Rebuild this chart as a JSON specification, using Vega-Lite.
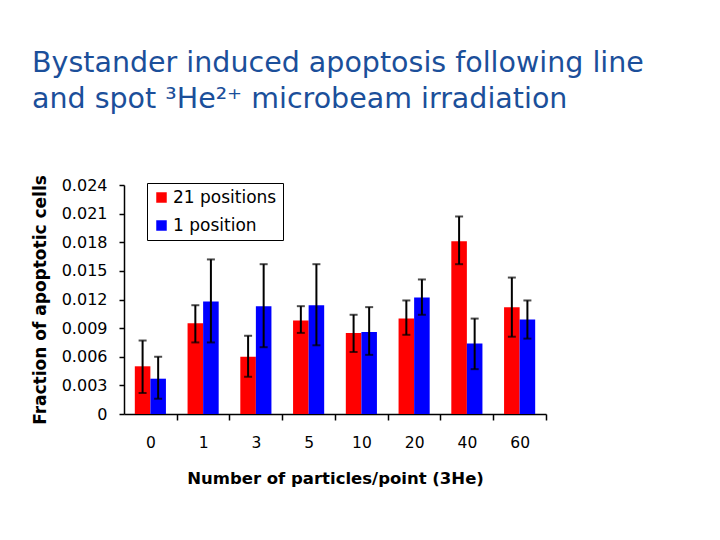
{
  "$schema": "https://vega.github.io/schema/vega-lite/v6.json",
  "autosize": {"type": "none"},
  "width": 422,
  "height": 229,
  "padding": {"left": 124, "top": 185, "right": 174, "bottom": 126},
  "background": "white",
  "config": {
    "font": "DejaVu Sans",
    "view": {"stroke": null},
    "axis": {"grid": false, "domainColor": "black", "tickColor": "black", "labelColor": "black", "titleColor": "black", "labelFont": "DejaVu Sans", "titleFont": "DejaVu Sans"},
    "axisY": {"labelOverlap": false, "labelFontSize": 16, "labelPadding": 12, "tickSize": 5, "tickWidth": 1.5, "domainWidth": 1.5, "titleFontSize": 17, "titleFontWeight": "bold", "titlePadding": 12}
  },
  "title": {
    "text": ["Bystander induced apoptosis following line", "and spot ³He²⁺ microbeam irradiation"],
    "anchor": "start",
    "frame": "group",
    "dx": -92,
    "offset": 61,
    "fontSize": 28.5,
    "fontWeight": "normal",
    "font": "DejaVu Sans",
    "color": "#1B4F9A",
    "lineHeight": 36
  },
  "data": {
    "values": [
      {"particles": "0", "series": "21 positions", "value": 0.0050, "lower": 0.0022, "upper": 0.0077},
      {"particles": "0", "series": "1 position", "value": 0.0037, "lower": 0.0016, "upper": 0.0060},
      {"particles": "1", "series": "21 positions", "value": 0.0095, "lower": 0.0075, "upper": 0.0114},
      {"particles": "1", "series": "1 position", "value": 0.0118, "lower": 0.0075, "upper": 0.0162},
      {"particles": "3", "series": "21 positions", "value": 0.0060, "lower": 0.0039, "upper": 0.0082},
      {"particles": "3", "series": "1 position", "value": 0.0113, "lower": 0.0070, "upper": 0.0157},
      {"particles": "5", "series": "21 positions", "value": 0.0098, "lower": 0.0085, "upper": 0.0113},
      {"particles": "5", "series": "1 position", "value": 0.0114, "lower": 0.0072, "upper": 0.0157},
      {"particles": "10", "series": "21 positions", "value": 0.0085, "lower": 0.0065, "upper": 0.0104},
      {"particles": "10", "series": "1 position", "value": 0.0086, "lower": 0.0062, "upper": 0.0112},
      {"particles": "20", "series": "21 positions", "value": 0.0100, "lower": 0.0083, "upper": 0.0119},
      {"particles": "20", "series": "1 position", "value": 0.0122, "lower": 0.0104, "upper": 0.0141},
      {"particles": "40", "series": "21 positions", "value": 0.0181, "lower": 0.0157, "upper": 0.0207},
      {"particles": "40", "series": "1 position", "value": 0.0074, "lower": 0.0047, "upper": 0.0100},
      {"particles": "60", "series": "21 positions", "value": 0.0112, "lower": 0.0081, "upper": 0.0143},
      {"particles": "60", "series": "1 position", "value": 0.0099, "lower": 0.0079, "upper": 0.0119}
    ]
  },
  "encoding": {
    "x": {
      "field": "particles",
      "type": "nominal",
      "sort": ["0", "1", "3", "5", "10", "20", "40", "60"],
      "scale": {"paddingInner": 0.41, "paddingOuter": 0.205},
      "axis": {
        "title": "Number of particles/point (3He)",
        "labelAngle": 0,
        "labelFontSize": 15.5,
        "labelPadding": 15,
        "titleFontSize": 16.5,
        "titleFontWeight": "bold",
        "titlePadding": 20,
        "domainWidth": 1.5,
        "tickSize": 6,
        "tickWidth": 1.5,
        "bandPosition": 1,
        "tickOffset": 10.8,
        "labelOffset": -10.8
      }
    },
    "xOffset": {"field": "series", "type": "nominal", "sort": ["21 positions", "1 position"], "scale": {"paddingInner": 0, "paddingOuter": 0}}
  },
  "layer": [
    {
      "mark": {"type": "bar"},
      "encoding": {
        "y": {
          "field": "value",
          "type": "quantitative",
          "scale": {"domain": [0, 0.024], "nice": false},
          "axis": {
            "title": "Fraction of apoptotic cells",
            "values": [0, 0.003, 0.006, 0.009, 0.012, 0.015, 0.018, 0.021, 0.024],
            "labelExpr": "datum.value == 0 ? '0' : format(datum.value, '.3f')"
          }
        },
        "color": {
          "field": "series",
          "type": "nominal",
          "scale": {"domain": ["21 positions", "1 position"], "range": ["#FF0000", "#0000FF"]},
          "legend": {
            "title": null,
            "orient": "none",
            "legendX": 23,
            "legendY": -2,
            "symbolType": "square",
            "symbolSize": 110,
            "symbolStrokeWidth": 0,
            "labelFontSize": 17,
            "labelFont": "DejaVu Sans",
            "labelColor": "black",
            "labelOffset": 3,
            "rowPadding": 10,
            "padding": 6,
            "strokeColor": "black",
            "fillColor": "white"
          }
        }
      }
    },
    {
      "mark": {"type": "rule", "color": "black", "strokeWidth": 2},
      "encoding": {
        "y": {
          "field": "lower",
          "type": "quantitative",
          "axis": {
            "title": "Fraction of apoptotic cells",
            "values": [0, 0.003, 0.006, 0.009, 0.012, 0.015, 0.018, 0.021, 0.024],
            "labelExpr": "datum.value == 0 ? '0' : format(datum.value, '.3f')"
          }
        },
        "y2": {"field": "upper"}
      }
    },
    {
      "mark": {"type": "tick", "color": "black", "thickness": 2, "size": 8, "orient": "horizontal"},
      "encoding": {
        "y": {
          "field": "upper",
          "type": "quantitative",
          "axis": {
            "title": "Fraction of apoptotic cells",
            "values": [0, 0.003, 0.006, 0.009, 0.012, 0.015, 0.018, 0.021, 0.024],
            "labelExpr": "datum.value == 0 ? '0' : format(datum.value, '.3f')"
          }
        }
      }
    },
    {
      "mark": {"type": "tick", "color": "black", "thickness": 2, "size": 8, "orient": "horizontal"},
      "encoding": {
        "y": {
          "field": "lower",
          "type": "quantitative",
          "axis": {
            "title": "Fraction of apoptotic cells",
            "values": [0, 0.003, 0.006, 0.009, 0.012, 0.015, 0.018, 0.021, 0.024],
            "labelExpr": "datum.value == 0 ? '0' : format(datum.value, '.3f')"
          }
        }
      }
    }
  ]
}
